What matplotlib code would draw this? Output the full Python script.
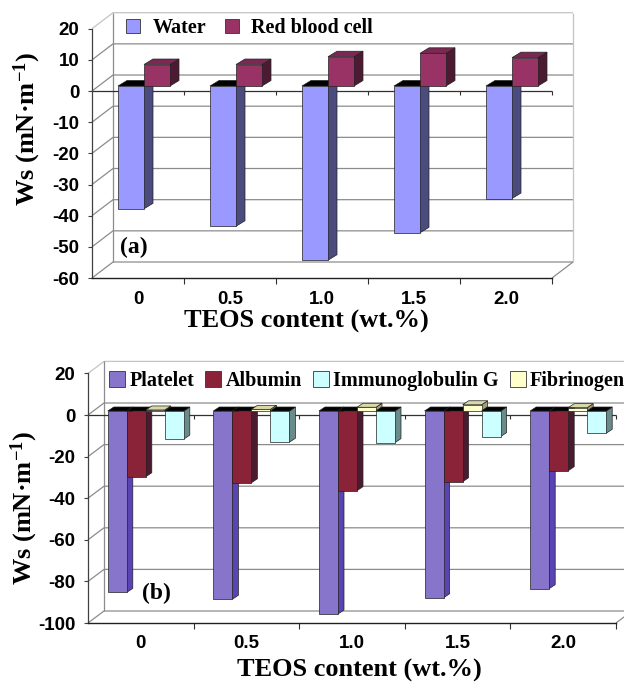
import matplotlib
matplotlib.use("Agg")
import matplotlib.pyplot as plt
from matplotlib.patches import Polygon, Patch
from matplotlib.font_manager import FontProperties

plt.rcParams["mathtext.fontset"] = "custom"
plt.rcParams["mathtext.rm"] = "Liberation Serif:bold"
plt.rcParams["mathtext.bf"] = "Liberation Serif:bold"
plt.rcParams["mathtext.it"] = "Liberation Serif:bold:italic"
plt.rcParams["axes.unicode_minus"] = False

# ---- data ----
TEOS_LABELS = ["0", "0.5", "1.0", "1.5", "2.0"]

WATER = [-39.4, -45.0, -55.9, -47.1, -36.1]
RED_BLOOD_CELL = [6.9, 6.9, 9.4, 10.5, 9.1]

PLATELET = [-87.2, -90.5, -97.6, -89.8, -85.4]
ALBUMIN = [-31.6, -34.5, -38.3, -34.0, -28.7]
FIBRINOGEN = [0.5, 0.8, 1.8, 3.0, 1.6]
IGG = [-13.5, -15.0, -15.2, -12.3, -10.7]

W, H = 624, 685
SERIF = "Liberation Serif"
SANS = "Liberation Sans"
EDGE = "#202020"
GRID = "#8c8c8c"
WALL = "#c4c4c4"

fig = plt.figure(figsize=(W / 100, H / 100), dpi=100)
fig.patch.set_facecolor("white")


def px_axes(left, right, top, bottom):
    return fig.add_axes([left / W, 1 - bottom / H, (right - left) / W, (bottom - top) / H])


def draw_panel(ax, series, ylim, ystep, bar_px, shift_px, depth_px, wall_px):
    n = len(TEOS_LABELS)
    x0, x1 = -0.5, n - 0.5
    y0, y1 = ylim
    ax.set_xlim(x0, x1)
    ax.set_ylim(y0, y1)
    sx = ax.bbox.width / n
    sy = ax.bbox.height / (y1 - y0)

    wx, wy = wall_px[0] / sx, wall_px[1] / sy
    line = dict(clip_on=False, solid_capstyle="butt")

    # back wall gridlines + left wall diagonals
    for v in range(y0, y1 + 1, ystep):
        c = WALL if v == y1 else GRID
        ax.plot([x0, x0 + wx, x1 + wx], [v, v + wy, v + wy], color=c, lw=0.9, zorder=1, **line)
    ax.plot([x0 + wx, x0 + wx], [y0 + wy, y1 + wy], color=GRID, lw=0.9, zorder=1, **line)
    ax.plot([x1 + wx, x1 + wx], [y0 + wy, y1 + wy], color=WALL, lw=0.9, zorder=1, **line)
    ax.plot([x1, x1 + wx], [y0, y0 + wy], color=GRID, lw=0.9, zorder=1, **line)

    # front zero line with category ticks
    bounds = [x0 + i for i in range(n + 1)]
    ax.plot([x0, x1], [0, 0], color="#303030", lw=0.9, zorder=1.5, **line)
    for b in bounds[1:]:
        ax.plot([b, b], [0, -4 / sy], color="#303030", lw=0.8, zorder=1.5, **line)

    # bars with fake depth faces
    bw = bar_px / sx
    shx, shy = shift_px[0] / sx, shift_px[1] / sy
    ddx, ddy = depth_px[0] / sx, depth_px[1] / sy
    k = len(series)
    z = 3.0
    for i in range(n):
        for j, (vals, front, side, top) in enumerate(series):
            left = i - k * bw / 2 + j * bw + shx
            right = left + bw
            v = vals[i]
            lo, hi = shy + min(v, 0), shy + max(v, 0)
            top_col = top if v > 0 else "#000000"
            ax.add_patch(Polygon([(right, lo), (right + ddx, lo + ddy), (right + ddx, hi + ddy), (right, hi)],
                                 closed=True, facecolor=side, edgecolor=EDGE, lw=0.5, zorder=z, clip_on=False))
            ax.add_patch(Polygon([(left, hi), (left + ddx, hi + ddy), (right + ddx, hi + ddy), (right, hi)],
                                 closed=True, facecolor=top_col, edgecolor=EDGE, lw=0.5, zorder=z, clip_on=False))
            ax.bar(left, v, bw, bottom=shy, align="edge", color=front, edgecolor=EDGE, lw=0.5,
                   zorder=z + 0.001, clip_on=False)
            z += 0.01

    # axes styling
    for s in ("top", "right"):
        ax.spines[s].set_visible(False)
    ax.spines["left"].set_color("#404040")
    ax.spines["bottom"].set_color("#202020")
    ax.spines["left"].set_linewidth(0.9)
    ax.spines["bottom"].set_linewidth(1.0)
    ax.set_facecolor("none")
    ax.set_yticks(range(y0, y1 + 1, ystep))
    ax.tick_params(axis="y", direction="out", length=3, width=0.8, color="#404040", pad=6)
    ax.set_xticks(range(n))
    ax.set_xticklabels(TEOS_LABELS)
    ax.set_xticks(bounds[1:], minor=True)
    ax.tick_params(axis="x", which="major", length=0, pad=9)
    ax.tick_params(axis="x", which="minor", direction="out", length=4, width=0.8, color="#303030")
    for lab in ax.get_xticklabels() + ax.get_yticklabels():
        lab.set_fontfamily(SANS)
        lab.set_fontweight("bold")
        lab.set_fontsize(13.5)


legend_font = FontProperties(family=SERIF, weight="bold", size=14.5)
label_font = dict(family=SERIF, weight="bold", fontsize=19)

# ---- panel (a) ----
ax_a = px_axes(92, 552, 28.7, 278)
series_a = [
    (WATER, "#9999ff", "#4b4b7e", "#000000"),
    (RED_BLOOD_CELL, "#993366", "#4d1a33", "#7a2952"),
]
draw_panel(ax_a, series_a, (-60, 20), 10, bar_px=26, shift_px=(6, 5), depth_px=(9, 5.5), wall_px=(21, 16))
ax_a.legend([Patch(facecolor=s[1], edgecolor="#333333", lw=0.6) for s in series_a],
            ["Water", "Red blood cell"], loc="center left", bbox_to_anchor=(0.074, 1.003),
            ncol=2, frameon=False, prop=legend_font, handlelength=0.7, handleheight=0.7,
            handletextpad=0.6, columnspacing=0.95, borderpad=0, borderaxespad=0)
fig.text(120 / W, 1 - 247 / H, "(a)", ha="left", va="center", family=SERIF, weight="bold", fontsize=17)
fig.text(27 / W, 1 - 129 / H, "Ws (mN·m$^{-1}$)", rotation=90, ha="center", va="center", **label_font)
fig.text(306 / W, 1 - 321 / H, "TEOS content (wt.%)", ha="center", va="center", **label_font)

# ---- panel (b) ----
ax_b = px_axes(88, 616, 373.4, 623)
series_b = [
    (PLATELET, "#8775cc", "#5a44b4", "#000000"),
    (ALBUMIN, "#8a2338", "#4a1a2e", "#000000"),
    (FIBRINOGEN, "#ffffcc", "#a0a078", "#d8d8a8"),
    (IGG, "#ccffff", "#6b8b8b", "#000000"),
]
draw_panel(ax_b, series_b, (-100, 20), 20, bar_px=19, shift_px=(5, 4), depth_px=(6, 4), wall_px=(16, 12))
legend_order = [0, 1, 3, 2]
legend_names = ["Platelet", "Albumin", "Fibrinogen", "Immunoglobulin G"]
ax_b.legend([Patch(facecolor=series_b[i][1], edgecolor="#333333", lw=0.6) for i in legend_order],
            [legend_names[i] for i in legend_order], loc="center left", bbox_to_anchor=(0.04, 0.9696),
            ncol=4, frameon=False, prop=legend_font, handlelength=0.8, handleheight=0.8,
            handletextpad=0.2, columnspacing=0.55, borderpad=0, borderaxespad=0)
fig.text(142 / W, 1 - 593 / H, "(b)", ha="left", va="center", family=SERIF, weight="bold", fontsize=17)
fig.text(24 / W, 1 - 508 / H, "Ws (mN·m$^{-1}$)", rotation=90, ha="center", va="center", **label_font)
fig.text(359 / W, 1 - 670 / H, "TEOS content (wt.%)", ha="center", va="center", **label_font)

fig.savefig("out.png", dpi=100)
